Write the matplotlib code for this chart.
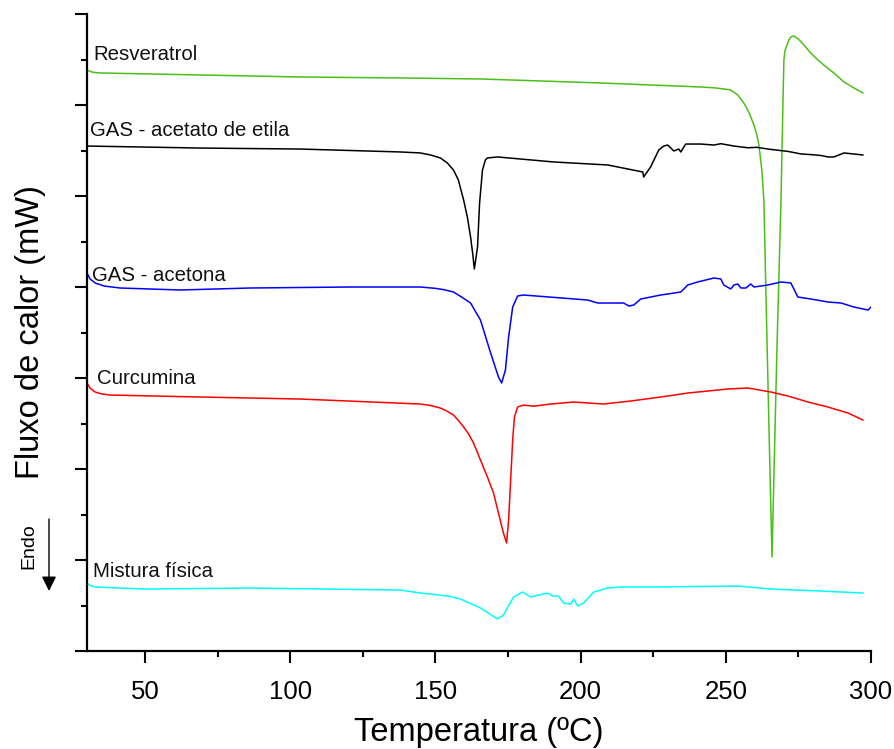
import matplotlib
matplotlib.use("Agg")
import matplotlib.pyplot as plt
from matplotlib.ticker import MultipleLocator, NullFormatter

plt.rcParams['font.family'] = ['Liberation Sans', 'DejaVu Sans']

# ---- data (temperature in ºC, heat flow in arbitrary stacked mW units) ----
res_T = [30.0, 31.0, 32.0, 34.5, 69.0, 103.4, 137.9, 165.5, 206.9, 241.4, 246.6, 249.5,
         251.7, 254.1, 256.2, 257.9, 259.7, 260.7, 261.4, 262.4, 263.1, 264.1, 265.2, 265.9,
         267.6, 269.0, 269.7, 270.0, 270.4, 271.7, 272.5, 273.4, 275.0, 276.9, 279.0, 281.7,
         284.5, 287.2, 290.7, 294.0, 297.2]
res_Y = [6.385, 6.37, 6.36, 6.352, 6.330, 6.308, 6.297, 6.286, 6.242, 6.198, 6.187, 6.175,
         6.165, 6.110, 6.022, 5.923, 5.780, 5.670, 5.560, 5.286, 4.956, 3.527, 1.989, 1.033,
         3.308, 4.956, 6.055, 6.495, 6.600, 6.714, 6.750, 6.758, 6.725, 6.659, 6.580, 6.495,
         6.420, 6.352, 6.253, 6.190, 6.132]

ace_T = [30.0, 69.0, 103.4, 137.9, 144.8, 148.3, 151.7, 154.1, 156.2, 157.9, 159.7, 161.0,
         162.1, 162.8, 163.4, 164.5, 165.2, 166.2, 167.2, 167.9, 171.4, 190.7, 209.3, 221.4,
         221.7, 224.1, 226.9, 228.6, 230.0, 232.1, 233.8, 234.5, 236.2, 241.4, 245.9, 248.3,
         252.8, 257.6, 260.7, 264.5, 271.4, 275.9, 279.3, 282.8, 285.2, 287.2, 290.7, 297.2]
ace_Y = [5.549, 5.527, 5.516, 5.484, 5.473, 5.451, 5.418, 5.363, 5.286, 5.176, 4.956, 4.769,
         4.549, 4.374, 4.198, 4.440, 4.923, 5.286, 5.396, 5.418, 5.429, 5.374, 5.341, 5.264,
         5.209, 5.319, 5.505, 5.549, 5.560, 5.495, 5.516, 5.484, 5.571, 5.571, 5.560, 5.575,
         5.549, 5.530, 5.535, 5.516, 5.490, 5.462, 5.455, 5.445, 5.429, 5.429, 5.473, 5.451]

acn_T = [30.0, 31.0, 32.8, 36.0, 41.4, 62.1, 86.2, 120.7, 144.8, 150.0, 153.0, 156.2,
         159.0, 162.1, 165.5, 169.0, 171.7, 172.8, 174.1, 175.2, 176.6, 178.3, 180.3, 202.4,
         205.9, 214.8, 216.6, 218.3, 220.7, 227.6, 234.5, 236.9, 240.3, 245.9, 248.3, 249.3,
         251.7, 252.8, 254.1, 255.2, 256.9, 258.6, 259.7, 264.5, 269.0, 272.4, 274.8, 279.3,
         285.2, 289.7, 294.1, 299.0, 300.0]
acn_Y = [4.154, 4.090, 4.044, 4.010, 3.989, 3.967, 3.989, 4.000, 4.000, 3.985, 3.970, 3.945,
         3.890, 3.824, 3.637, 3.275, 3.011, 2.945, 3.088, 3.451, 3.780, 3.901, 3.912, 3.857,
         3.824, 3.824, 3.791, 3.802, 3.868, 3.912, 3.945, 4.022, 4.055, 4.099, 4.088, 4.022,
         3.978, 4.022, 4.033, 3.989, 3.989, 4.033, 4.000, 4.022, 4.055, 4.044, 3.890, 3.868,
         3.835, 3.824, 3.780, 3.747, 3.780]

cur_T = [30.0, 31.0, 32.8, 35.0, 37.9, 69.0, 103.4, 144.8, 148.0, 151.7, 154.0, 156.2,
         158.0, 159.7, 161.5, 163.1, 165.5, 167.9, 170.0, 171.7, 173.4, 174.5, 175.2, 175.9,
         176.6, 177.2, 178.3, 180.3, 183.8, 189.7, 197.6, 207.9, 217.2, 227.6, 236.9, 250.7,
         257.6, 265.5, 271.4, 278.3, 285.2, 292.1, 297.2]
cur_Y = [2.945, 2.890, 2.846, 2.825, 2.813, 2.791, 2.769, 2.714, 2.700, 2.670, 2.635, 2.593,
         2.530, 2.462, 2.380, 2.286, 2.099, 1.912, 1.736, 1.516, 1.297, 1.187, 1.440, 1.879,
         2.319, 2.571, 2.681, 2.703, 2.690, 2.714, 2.736, 2.714, 2.747, 2.791, 2.835, 2.879,
         2.890, 2.846, 2.802, 2.736, 2.681, 2.615, 2.538]

mix_T = [30.0, 31.0, 32.8, 50.0, 86.2, 137.9, 144.8, 150.0, 155.0, 158.6, 165.5, 171.4,
         173.4, 176.9, 180.0, 182.8, 188.6, 190.3, 192.4, 194.1, 196.6, 197.6, 199.0, 201.0,
         204.5, 209.3, 213.8, 225.2, 254.1, 265.5, 282.8, 297.2]
mix_Y = [0.747, 0.720, 0.703, 0.681, 0.692, 0.670, 0.637, 0.620, 0.600, 0.571, 0.473, 0.352,
         0.396, 0.593, 0.648, 0.593, 0.637, 0.604, 0.604, 0.527, 0.516, 0.571, 0.495, 0.527,
         0.648, 0.692, 0.703, 0.703, 0.714, 0.681, 0.659, 0.637]

series = [
    ("Resveratrol", res_T, res_Y, "#4cbf16", 6.495),
    ("GAS - acetato de etila", ace_T, ace_Y, "#000000", 5.659),
    ("GAS - acetona", acn_T, acn_Y, "#0000ff", 4.066),
    ("Curcumina", cur_T, cur_Y, "#ff0000", 2.934),
    ("Mistura física", mix_T, mix_Y, "#00ffff", 0.813),
]
label_x = [32.1, 31.0, 31.7, 33.4, 32.1]

x_ticks = [50, 100, 150, 200, 250, 300]

# ---- figure ----
fig = plt.figure(figsize=(8.95, 7.49), dpi=100)
ax = fig.add_axes([87 / 895, 1 - 651 / 749, (871 - 87) / 895, (651 - 14) / 749])

for (name, T, Y, c, ly), lx in zip(series, label_x):
    ax.plot(T, Y, color=c, lw=1.1)
    ax.text(lx, ly, name, fontsize=14.7, ha='left', va='baseline', color='#111111')

ax.set_xlim(30, 300)
ax.set_ylim(0, 7)
ax.set_xticks(x_ticks)
ax.xaxis.set_minor_locator(MultipleLocator(25))
ax.yaxis.set_major_locator(MultipleLocator(1))
ax.yaxis.set_minor_locator(MultipleLocator(0.5))
ax.yaxis.set_major_formatter(NullFormatter())

for s in ['top', 'right']:
    ax.spines[s].set_visible(False)
for s in ['left', 'bottom']:
    ax.spines[s].set_linewidth(1.6)

ax.tick_params(which='major', length=8.6, width=1.5, direction='out', labelsize=18.5, pad=12)
ax.tick_params(which='minor', length=4.3, width=1.5, direction='out')

ax.set_xlabel("Temperatura (ºC)", fontsize=23.5, labelpad=10)
ax.set_ylabel("Fluxo de calor (mW)", fontsize=23.5)
ax.yaxis.set_label_coords(-0.052, 0.5)

# Endo arrow
fig.text(29 / 895, 1 - 546.5 / 749, "Endo", rotation=90, fontsize=14, ha='center', va='center')
ax.annotate("", xy=(49 / 895, 1 - 591 / 749), xytext=(49 / 895, 1 - 519 / 749),
            xycoords='figure fraction', textcoords='figure fraction',
            arrowprops=dict(arrowstyle='-|>', color='black', lw=1.0, mutation_scale=22,
                            shrinkA=0, shrinkB=0))

fig.savefig("out.png", dpi=100)
